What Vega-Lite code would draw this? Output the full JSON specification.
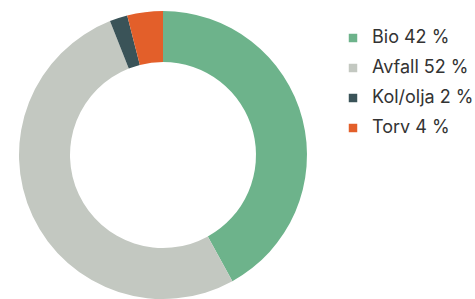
{
  "$schema": "https://vega.github.io/schema/vega-lite/v6.json",
  "width": 326,
  "height": 310,
  "padding": 0,
  "autosize": {"type": "pad"},
  "background": "white",
  "data": {"values": [
    {"cat": "Bio 42 %", "value": 42, "order": 1},
    {"cat": "Avfall 52 %", "value": 52, "order": 2},
    {"cat": "Kol/olja 2 %", "value": 2, "order": 3},
    {"cat": "Torv 4 %", "value": 4, "order": 4}
  ]},
  "mark": {"type": "arc", "outerRadius": 144, "innerRadius": 93},
  "encoding": {
    "theta": {"field": "value", "type": "quantitative", "stack": true},
    "order": {"field": "order", "type": "quantitative"},
    "color": {
      "field": "cat", "type": "nominal",
      "scale": {
        "domain": ["Bio 42 %", "Avfall 52 %", "Kol/olja 2 %", "Torv 4 %"],
        "range": ["#6db38b", "#c3c8c1", "#3a5358", "#e35f2a"]
      },
      "legend": {
        "title": null, "orient": "none", "legendX": 344, "legendY": 29,
        "symbolType": "square", "symbolSize": 72, "symbolStrokeWidth": 0,
        "labelFont": "Inter", "labelFontSize": 18, "labelColor": "#333333",
        "rowPadding": 12, "labelOffset": 10
      }
    }
  },
  "view": {"stroke": null}
}
